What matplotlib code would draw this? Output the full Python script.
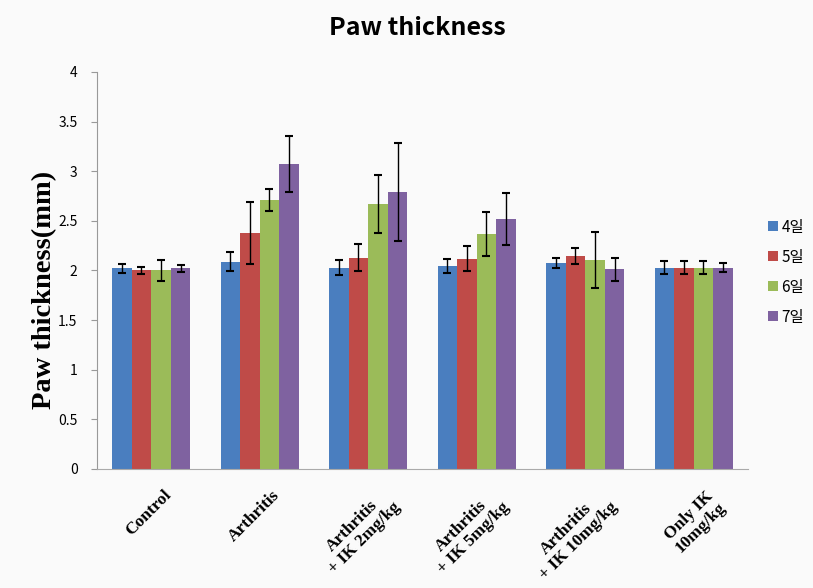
import numpy as np
import matplotlib
matplotlib.use('Agg')
from matplotlib import pyplot as plt
from matplotlib.transforms import ScaledTranslation, blended_transform_factory

plt.rcParams['font.family'] = ['Noto Sans CJK KR', 'DejaVu Sans']

groups = ['Control', 'Arthritis', 'Arthritis\n+ IK 2mg/kg', 'Arthritis\n+ IK 5mg/kg',
          'Arthritis\n+ IK 10mg/kg', 'Only IK\n10mg/kg']
days = ['4일', '5일', '6일', '7일']
day4 = [2.02, 2.09, 2.03, 2.045, 2.08, 2.03]
day5 = [2.00, 2.375, 2.13, 2.12, 2.15, 2.03]
day6 = [2.00, 2.71, 2.67, 2.365, 2.105, 2.03]
day7 = [2.02, 3.07, 2.79, 2.52, 2.01, 2.03]
err4 = [0.05, 0.10, 0.08, 0.075, 0.05, 0.07]
err5 = [0.04, 0.31, 0.14, 0.13, 0.08, 0.07]
err6 = [0.11, 0.11, 0.29, 0.22, 0.28, 0.065]
err7 = [0.04, 0.28, 0.49, 0.26, 0.12, 0.045]
colors = ['#4A7EBF', '#BF4B48', '#9BBB59', '#7F62A0']

values = [day4, day5, day6, day7]
errors = [err4, err5, err6, err7]

fig = plt.figure(figsize=(8.13, 5.88), dpi=100, facecolor='#fafafa')
ax = fig.add_axes([0.1193, 0.2024, 0.8007, 0.6752], facecolor='#fafafa')

x = np.arange(len(groups))
w = 0.18
for i in range(4):
    ax.bar(x + (i - 1.5) * w, values[i], w, color=colors[i], label=days[i],
           yerr=errors[i], capsize=3,
           error_kw=dict(ecolor='black', elinewidth=1, capthick=1.5))

ax.set_xlim(-0.5, len(groups) - 0.5)
ax.set_ylim(0, 4)
ax.set_yticks(np.arange(0, 4.01, 0.5))
ax.set_yticklabels(['0', '0.5', '1', '1.5', '2', '2.5', '3', '3.5', '4'],
                   fontsize=10, fontweight='medium')
ax.set_xticks(x)
ax.set_xticklabels([])
# rotated group labels, placed a bit below and right of each tick
trans = blended_transform_factory(ax.transData, ax.transAxes) + \
    ScaledTranslation(12 / 100, -18 / 100, fig.dpi_scale_trans)
for xi, g in zip(x, groups):
    ax.text(xi, 0, g, transform=trans, rotation=45, ha='right', va='top',
            rotation_mode='anchor', family='Liberation Serif', fontweight='bold',
            fontsize=12.5, multialignment='center', linespacing=1.1)
ax.tick_params(axis='x', length=0)
ax.tick_params(axis='y', length=4, color='#999999', pad=10)
for s in ['top', 'right']:
    ax.spines[s].set_visible(False)
ax.spines['left'].set_color('#999999')
ax.spines['bottom'].set_color('#aaaaaa')

ax.set_ylabel('Paw thickness(mm)', family='Liberation Serif', fontweight='bold',
              fontsize=20.5)
ax.yaxis.set_label_coords(-0.062, 0.451)
fig.suptitle('Paw thickness', x=0.513, y=0.972, fontsize=18, fontweight='bold')

ax.legend(loc='center left', bbox_to_anchor=(1.022, 0.496), frameon=False,
          handlelength=0.6, handleheight=0.6, handletextpad=0.25,
          labelspacing=0.85, fontsize=11, borderaxespad=0)

plt.savefig('out.png', dpi=100, facecolor=fig.get_facecolor())
